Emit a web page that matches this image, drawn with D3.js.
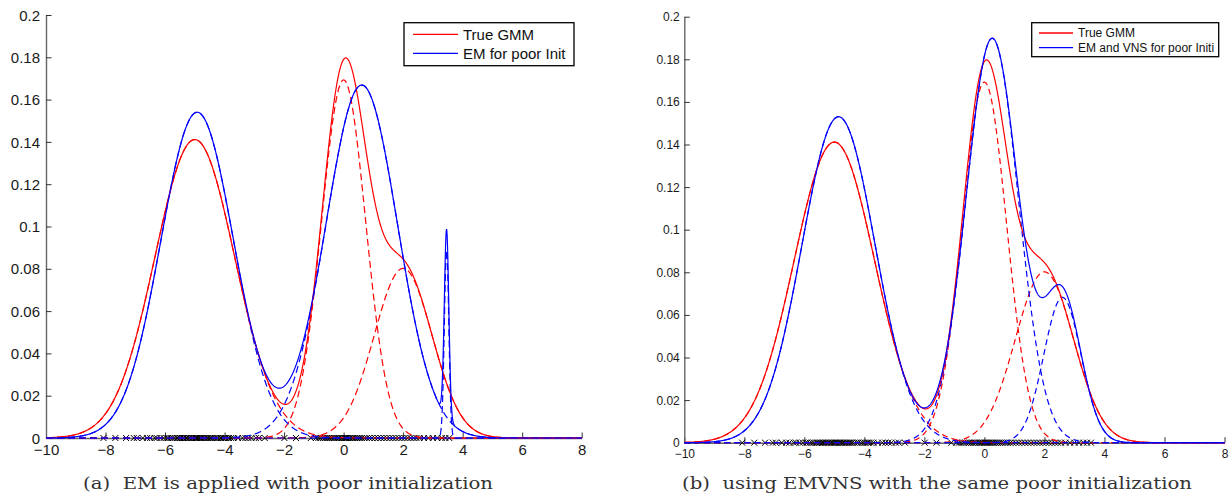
<!DOCTYPE html>
<html><head><meta charset="utf-8">
<script src="https://cdn.jsdelivr.net/npm/d3@7"></script>
<style>body{margin:0;background:#fff}svg{display:block}</style>
</head><body>
<svg id="chart" width="1230" height="495"></svg>
<script>
// ---- tick values / labels ----
const xTicks = [-10, -8, -6, -4, -2, 0, 2, 4, 6, 8];
const xTickLabels = ["\u221210", "\u22128", "\u22126", "\u22124", "\u22122", "0", "2", "4", "6", "8"];
const yTicks = [0, 0.02, 0.04, 0.06, 0.08, 0.1, 0.12, 0.14, 0.16, 0.18, 0.2];
const yTickLabels = ["0", "0.02", "0.04", "0.06", "0.08", "0.1", "0.12", "0.14", "0.16", "0.18", "0.2"];

// ---- True GMM components (red) ----
const trueWeights = [0.474, 0.314, 0.195];
const trueMeans = [-5.0, 0.0, 2.0];
const trueSigmas = [1.34, 0.74, 0.97];

// ---- (a) EM for poor init (blue) ----
const emWeights = [0.471, 0.502, 0.0167];
const emMeans = [-4.92, 0.61, 3.46];
const emSigmas = [1.22, 1.2, 0.075];

// ---- (b) EM and VNS for poor init (blue) ----
const vnsWeights = [0.468, 0.414, 0.106];
const vnsMeans = [-4.86, 0.26, 2.6];
const vnsSigmas = [1.22, 0.87, 0.62];

// ---- observed samples (x marks on the axis) ----
const samples = [-8.07, -7.67, -7.31, -7.05, -6.95, -6.75, -6.6, -6.5, -6.35, -6.28, -6.15, -6.05, -5.95, -5.9,
  -5.82, -5.75, -5.68, -5.6, -5.55, -5.5, -5.45, -5.4, -5.36, -5.3, -5.25, -5.2, -5.15, -5.1, -5.05, -5.0,
  -4.96, -4.92, -4.88, -4.83, -4.8, -4.75, -4.7, -4.65, -4.6, -4.55, -4.5, -4.45, -4.4, -4.33, -4.25, -4.2,
  -4.12, -4.05, -3.98, -3.9, -3.85, -3.78, -3.7, -3.55, -3.4, -3.3, -3.2, -3.1, -2.95, -2.85, -2.65, -1.99,
  -1.6, -1.1, -0.93, -0.85, -0.78, -0.7, -0.62, -0.55, -0.5, -0.44, -0.38, -0.32, -0.27, -0.2, -0.15, -0.1,
  -0.05, 0.0, 0.04, 0.08, 0.12, 0.17, 0.22, 0.27, 0.32, 0.38, 0.44, 0.5, 0.56, 0.62, 0.7, 0.78, 0.86, 0.95,
  1.05, 1.15, 1.25, 1.35, 1.45, 1.55, 1.65, 1.75, 1.85, 1.95, 2.05, 2.15, 2.25, 2.35, 2.45, 2.55, 2.7, 2.85,
  3.0, 3.15, 3.3, 3.42, 3.55];

const legendA = ["True GMM", "EM for poor Init"];
const legendB = ["True GMM", "EM and VNS for poor Initi"];
const captionA = "(a)  EM is applied with poor initialization";
const captionB = "(b)  using EMVNS with the same poor initialization";

// ---- layout ----
const panels = [
  { x0: 46, x1: 581.7, yB: 438, yT: 15, font: 15, dash: "7,4", lw: 1.2,
    est: [emWeights, emMeans, emSigmas], legend: legendA,
    leg: { x: 404, y: 22.7, w: 170, h: 43, l0: 413, l1: 458, ly: [34.3, 53.3], tx: 463 },
    caption: captionA, cap: { x: 83, w: 410 }, xlabY: 455, ylabGap: 6 },
  { x0: 684.3, x1: 1224.5, yB: 442.7, yT: 16.7, font: 12, dash: "6,4", lw: 1.2,
    est: [vnsWeights, vnsMeans, vnsSigmas], legend: legendB,
    leg: { x: 1031.7, y: 22.7, w: 187, h: 34, l0: 1039, l1: 1073, ly: [33, 47.7], tx: 1078 },
    caption: captionB, cap: { x: 682, w: 510 }, xlabY: 458.5, ylabGap: 4.5 }
];

const svg = d3.select("#chart");
const grid = d3.range(-10, 8.00001, 0.01);
const normal = (x, m, s) => Math.exp(-0.5 * ((x - m) / s) ** 2) / (s * Math.sqrt(2 * Math.PI));

function compCurve(w, m, s) { return grid.map(x => [x, w * normal(x, m, s)]); }
function mixCurve(W, M, S) { return grid.map(x => [x, d3.sum(W, (w, i) => w * normal(x, M[i], S[i]))]); }

panels.forEach(p => {
  const x = d3.scaleLinear().domain([-10, 8]).range([p.x0, p.x1]);
  const y = d3.scaleLinear().domain([0, 0.2]).range([p.yB, p.yT]);
  const g = svg.append("g");
  const line = d3.line().x(d => x(d[0])).y(d => y(d[1]));

  // axes
  const xAxis = d3.axisBottom(x).tickValues(xTicks).tickSizeInner(-5.5).tickSizeOuter(0).tickFormat((d, i) => xTickLabels[i]);
  const yAxis = d3.axisLeft(y).tickValues(yTicks).tickSizeInner(-5.5).tickSizeOuter(0).tickFormat((d, i) => yTickLabels[i]);
  const gx = g.append("g").attr("transform", `translate(0,${p.yB})`).call(xAxis);
  const gy = g.append("g").attr("transform", `translate(${p.x0},0)`).call(yAxis);
  [gx, gy].forEach(a => {
    a.select(".domain").attr("stroke", "#666").attr("stroke-width", 1.4);
    a.selectAll(".tick line").attr("stroke", "#333").attr("stroke-width", 1);
    a.selectAll("text").attr("font-family", "Liberation Sans, Arial, sans-serif")
      .attr("font-size", p.font).attr("fill", "#1a1a1a");
  });
  gx.selectAll(".tick text").attr("y", p.xlabY - p.yB).attr("dy", 0);
  gy.selectAll(".tick text").attr("x", -p.ylabGap).attr("dy", "0.34em");

  // sample markers
  const mk = 3;
  g.append("g").selectAll("path").data(samples).join("path")
    .attr("d", d => `M${x(d) - mk},${p.yB - mk}L${x(d) + mk},${p.yB + mk}M${x(d) - mk},${p.yB + mk}L${x(d) + mk},${p.yB - mk}`)
    .attr("stroke", "#000").attr("stroke-width", 1).attr("fill", "none");

  const [EW, EM, ES] = p.est;
  // component (dashed) curves
  trueWeights.forEach((w, i) => {
    g.append("path").datum(compCurve(w, trueMeans[i], trueSigmas[i])).attr("d", line)
      .attr("fill", "none").attr("stroke", "#ff0000").attr("stroke-width", p.lw).attr("stroke-dasharray", p.dash);
  });
  EW.forEach((w, i) => {
    g.append("path").datum(compCurve(w, EM[i], ES[i])).attr("d", line)
      .attr("fill", "none").attr("stroke", "#0000ff").attr("stroke-width", p.lw).attr("stroke-dasharray", p.dash);
  });
  // mixture (solid) curves
  g.append("path").datum(mixCurve(trueWeights, trueMeans, trueSigmas)).attr("d", line)
    .attr("fill", "none").attr("stroke", "#ff0000").attr("stroke-width", p.lw);
  g.append("path").datum(mixCurve(EW, EM, ES)).attr("d", line)
    .attr("fill", "none").attr("stroke", "#0000ff").attr("stroke-width", p.lw);

  // legend
  const L = p.leg;
  g.append("rect").attr("x", L.x).attr("y", L.y).attr("width", L.w).attr("height", L.h)
    .attr("fill", "#fff").attr("stroke", "#000").attr("stroke-width", 1.3);
  ["#ff0000", "#0000ff"].forEach((c, i) => {
    g.append("line").attr("x1", L.l0).attr("x2", L.l1).attr("y1", L.ly[i]).attr("y2", L.ly[i])
      .attr("stroke", c).attr("stroke-width", 1.3);
    g.append("text").attr("x", L.tx).attr("y", L.ly[i]).attr("dy", "0.35em")
      .attr("font-family", "Liberation Sans, Arial, sans-serif").attr("font-size", p.font)
      .attr("fill", "#111").text(p.legend[i]);
  });

  // caption
  g.append("text").attr("x", p.cap.x).attr("y", 489)
    .attr("font-family", "DejaVu Serif, Liberation Serif, serif").attr("font-size", 16.5)
    .attr("fill", "#333").attr("textLength", p.cap.w).attr("lengthAdjust", "spacingAndGlyphs")
    .attr("xml:space", "preserve").style("white-space", "pre").text(p.caption);
});
</script>
</body></html>
